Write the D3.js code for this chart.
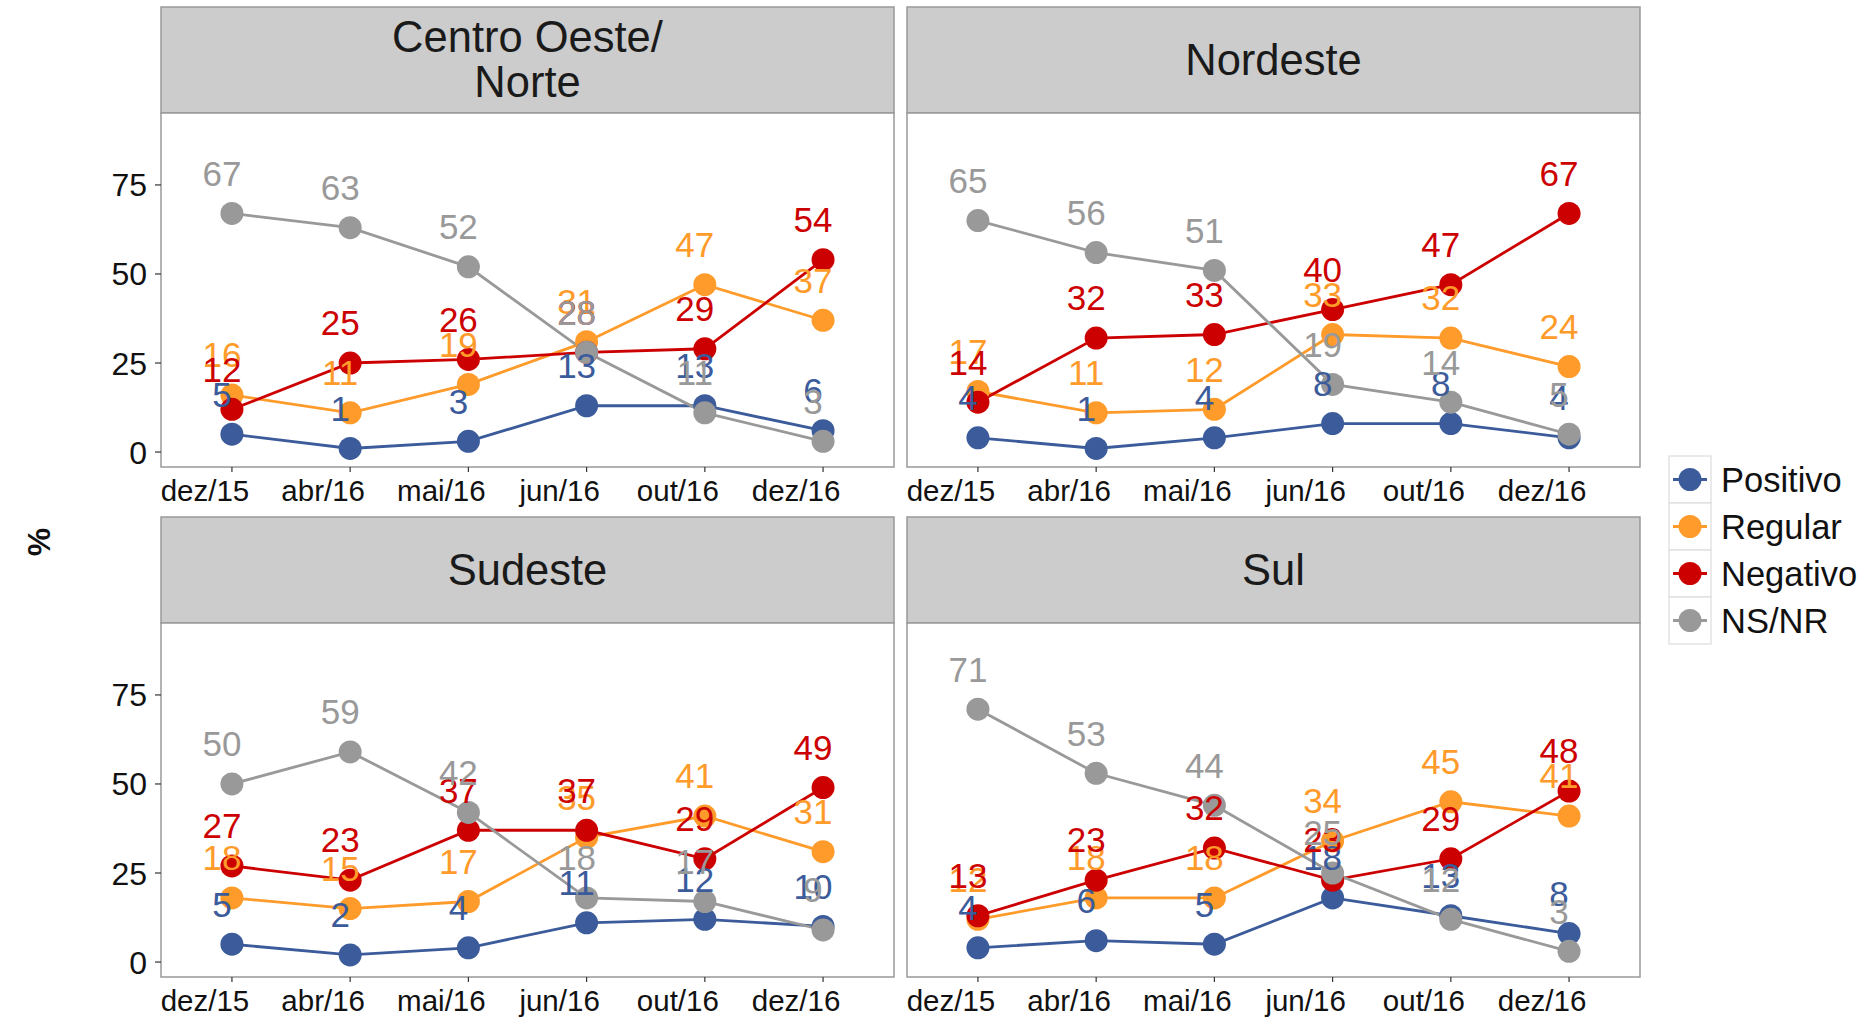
<!DOCTYPE html>
<html>
<head>
<meta charset="utf-8">
<script src="https://cdn.jsdelivr.net/npm/d3@7"></script>
<style>
  body { margin: 0; background: #fff; }
  svg text { font-family: "Liberation Sans", Arial, sans-serif; }
</style>
</head>
<body>
<div id="chart"></div>
<script>
// months on the x axis
const months = ['dez/15', 'abr/16', 'mai/16', 'jun/16', 'out/16', 'dez/16'];
// facet titles (lines split for the strip)
const regions = [['Centro Oeste/', 'Norte'], ['Nordeste'], ['Sudeste'], ['Sul']];
const seriesNames = ['Positivo', 'Regular', 'Negativo', 'NS/NR'];
const seriesColors = ['#3b5b9b', '#ff9b2a', '#cc0000', '#999999'];
const yTicks = [0, 25, 50, 75];

// values per series, one row per region (same order as regions)
const positivo = [
    [5, 1, 3, 13, 13, 6],
    [4, 1, 4, 8, 8, 4],
    [5, 2, 4, 11, 12, 10],
    [4, 6, 5, 18, 13, 8]
];
const regular = [
    [16, 11, 19, 31, 47, 37],
    [17, 11, 12, 33, 32, 24],
    [18, 15, 17, 35, 41, 31],
    [12, 18, 18, 34, 45, 41]
];
const negativo = [
    [12, 25, 26, 28, 29, 54],
    [14, 32, 33, 40, 47, 67],
    [27, 23, 37, 37, 29, 49],
    [13, 23, 32, 23, 29, 48]
];
const nsnr = [
    [67, 63, 52, 28, 11, 3],
    [65, 56, 51, 19, 14, 5],
    [50, 59, 42, 18, 17, 9],
    [71, 53, 44, 25, 12, 3]
];
const allSeries = [positivo, regular, negativo, nsnr];

const width = 1867, height = 1020;
const svg = d3.select('#chart').append('svg')
    .attr('width', width)
    .attr('height', height);

// panel geometry
const colX = [161, 907];
const panelW = 733;
const rowTop = [7, 517];
const stripH = 106;
const plotH = 354;

const x = d3.scalePoint()
    .domain(months)
    .range([0, panelW])
    .padding(0.6);

const y = d3.scaleLinear()
    .domain([-4.2, 95.2])
    .range([plotH, 0]);

const line = d3.line()
    .x((d, i) => x(months[i]))
    .y(d => y(d));

regions.forEach((title, r) => {
    const col = r % 2, row = Math.floor(r / 2);
    const g = svg.append('g')
        .attr('transform', `translate(${colX[col]},${rowTop[row]})`);

    // strip
    g.append('rect')
        .attr('width', panelW).attr('height', stripH)
        .attr('fill', '#cccccc').attr('stroke', '#999').attr('stroke-width', 1.5);
    const st = g.append('text')
        .attr('x', panelW / 2)
        .attr('y', stripH / 2)
        .attr('text-anchor', 'middle')
        .attr('font-size', 43.5)
        .attr('fill', '#1a1a1a');
    title.forEach((t, i) => {
        st.append('tspan')
            .attr('x', panelW / 2)
            .attr('dy', i === 0 ? (title.length === 1 ? 15 : -8) : 45)
            .text(t);
    });

    const p = g.append('g').attr('transform', `translate(0,${stripH})`);
    p.append('rect')
        .attr('width', panelW).attr('height', plotH)
        .attr('fill', '#fff').attr('stroke', '#999').attr('stroke-width', 1.5);

    // x axis
    const xa = p.append('g').attr('transform', `translate(0,${plotH})`);
    months.forEach(m => {
        xa.append('line')
            .attr('x1', x(m)).attr('x2', x(m))
            .attr('y1', 0).attr('y2', 5)
            .attr('stroke', '#333').attr('stroke-width', 1.2);
        xa.append('text')
            .attr('x', x(m) - 27)
            .attr('y', 34)
            .attr('text-anchor', 'middle')
            .attr('font-size', 29.5)
            .attr('fill', '#111')
            .text(m);
    });

    // y axis only for left panels
    if (col === 0) {
        yTicks.forEach(t => {
            p.append('line')
                .attr('x1', -6).attr('x2', 0)
                .attr('y1', y(t)).attr('y2', y(t))
                .attr('stroke', '#333').attr('stroke-width', 1.2);
            p.append('text')
                .attr('x', -14)
                .attr('y', y(t))
                .attr('dy', '0.36em')
                .attr('text-anchor', 'end')
                .attr('font-size', 32)
                .attr('fill', '#111')
                .text(t);
        });
    }

    // lines
    allSeries.forEach((s, k) => {
        p.append('path')
            .datum(s[r])
            .attr('d', line)
            .attr('fill', 'none')
            .attr('stroke', seriesColors[k])
            .attr('stroke-width', 2.8);
    });
    // points
    allSeries.forEach((s, k) => {
        p.selectAll(null)
            .data(s[r])
            .join('circle')
            .attr('cx', (d, i) => x(months[i]))
            .attr('cy', d => y(d))
            .attr('r', 11.5)
            .attr('fill', seriesColors[k]);
    });
    // value labels, nudged above the points
    allSeries.forEach((s, k) => {
        p.selectAll(null)
            .data(s[r])
            .join('text')
            .attr('x', (d, i) => x(months[i]) - 10)
            .attr('y', d => y(d + 11.3))
            .attr('dy', '0.36em')
            .attr('text-anchor', 'middle')
            .attr('font-size', 35)
            .attr('fill', seriesColors[k])
            .text(d => d);
    });
});

// y axis title
svg.append('text')
    .attr('transform', 'translate(38,542) rotate(-90)')
    .attr('text-anchor', 'middle')
    .attr('dy', '0.36em')
    .attr('font-size', 32)
    .attr('font-weight', 'bold')
    .attr('fill', '#111')
    .text('%');

// legend
const legend = svg.append('g').attr('transform', 'translate(1669,456)');
seriesNames.forEach((name, k) => {
    const lg = legend.append('g').attr('transform', `translate(0,${k * 47})`);
    lg.append('rect')
        .attr('width', 42).attr('height', 47)
        .attr('fill', '#fff').attr('stroke', '#ddd').attr('stroke-width', 1.2);
    lg.append('line')
        .attr('x1', 4).attr('x2', 38)
        .attr('y1', 23.5).attr('y2', 23.5)
        .attr('stroke', seriesColors[k]).attr('stroke-width', 2.8);
    lg.append('circle')
        .attr('cx', 21).attr('cy', 23.5).attr('r', 11.5)
        .attr('fill', seriesColors[k]);
    lg.append('text')
        .attr('x', 52)
        .attr('y', 23.5)
        .attr('dy', '0.36em')
        .attr('font-size', 34.5)
        .attr('fill', '#111')
        .text(name);
});
</script>
</body>
</html>
